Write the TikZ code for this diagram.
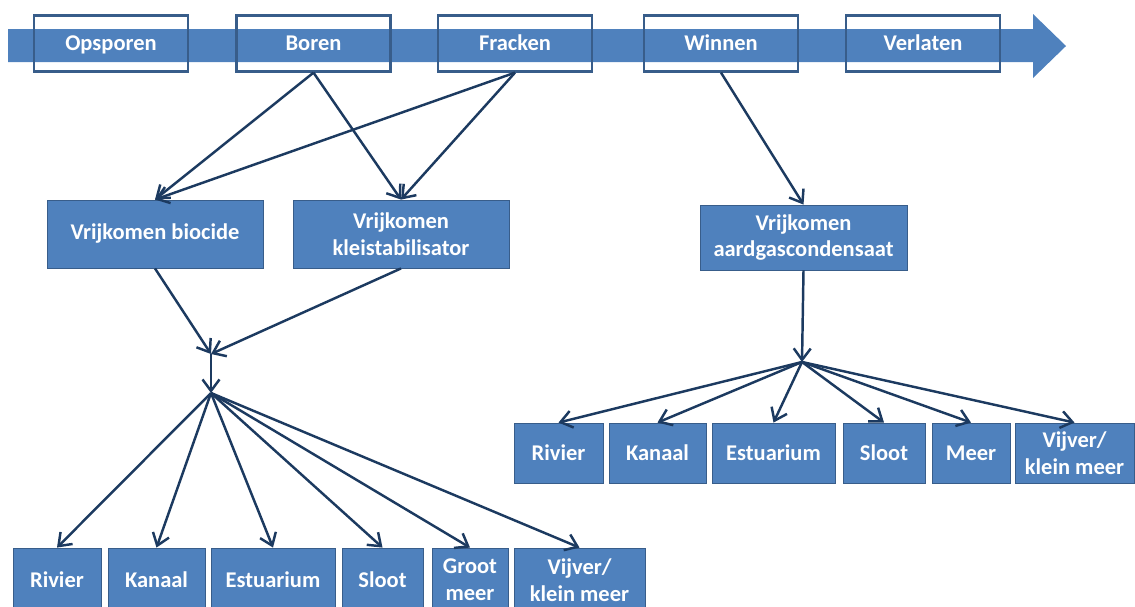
\documentclass[tikz,border=0pt]{standalone}
\usepackage{fontspec}
\setmainfont{Carlito}
\usepackage{tikz}
\usetikzlibrary{arrows.meta}
\definecolor{mblue}{RGB}{79, 129, 189}
\definecolor{medge}{RGB}{56, 93, 138}
\definecolor{mnavy}{RGB}{28, 58, 96}
\tikzset{phase/.style = {draw = medge, line width = 1.3pt, minimum width = 3.08cm, minimum height = 1.12cm, inner sep = 0, text height = 10.5pt, text depth = 2.5pt, text = white, font = \fontsize{12.8}{15.3}\selectfont\bfseries}}
\tikzset{box/.style = {fill = mblue, draw = medge, line width = 0.5pt, inner sep = 0, text = white, align = center, font = \fontsize{12.8}{15.3}\selectfont\bfseries}}
\tikzset{flow/.style = {mnavy, line width = 1.4pt, -{Straight Barb[length = 2.3mm, width = 3.4mm]}}}

\begin{document}
\begin{tikzpicture}[x = 0.02cm, y = -0.02cm]
          \useasboundingbox (0, 0) rectangle (1135, 606);
          \fill [mblue] (8, 29) -- (1033, 29) -- (1033, 14) -- (1066, 46) -- (1033, 78) -- (1033, 62) -- (8, 62) -- cycle;

          \node [phase] (opsporen) at (111, 43.5) {Opsporen};
          \node [phase] (boren) at (313.5, 43.5) {Boren};
          \node [phase] (fracken) at (515, 43.5) {Fracken};
          \node [phase] (winnen) at (721, 43.5) {Winnen};
          \node [phase] (verlaten) at (923, 43.5) {Verlaten};

          \node [box, minimum width = 4.32cm, minimum height = 1.36cm] (biocide) at (155, 234) {Vrijkomen biocide};
          \node [box, minimum width = 4.32cm, minimum height = 1.36cm] (klei) at (401, 234) {Vrijkomen\\kleistabilisator};
          \node [box, minimum width = 4.14cm, minimum height = 1.3cm] (aardgas) at (803.5, 237.5) {Vrijkomen\\aardgascondensaat};

          \coordinate (mergeA) at (211, 354);
          \coordinate (fanA) at (211, 393);
          \coordinate (fanB) at (802, 362);

          \node [box, minimum width = 1.76cm, minimum height = 1.28cm] (rivierL) at (57, 580) {Rivier};
          \node [box, minimum width = 1.94cm, minimum height = 1.28cm] (kanaalL) at (156.5, 580) {Kanaal};
          \node [box, minimum width = 2.48cm, minimum height = 1.28cm] (estuariumL) at (273, 580) {Estuarium};
          \node [box, minimum width = 1.62cm, minimum height = 1.28cm] (slootL) at (382.5, 580) {Sloot};
          \node [box, minimum width = 1.52cm, minimum height = 1.28cm] (grootmeerL) at (470, 580) {Groot\\meer};
          \node [box, minimum width = 2.62cm, minimum height = 1.28cm] (vijverL) at (579.5, 580) {Vijver/\\klein meer};

          \node [box, minimum width = 1.78cm, minimum height = 1.2cm] (rivierR) at (558.5, 453) {Rivier};
          \node [box, minimum width = 1.94cm, minimum height = 1.2cm] (kanaalR) at (657.5, 453) {Kanaal};
          \node [box, minimum width = 2.46cm, minimum height = 1.2cm] (estuariumR) at (773.5, 453) {Estuarium};
          \node [box, minimum width = 1.64cm, minimum height = 1.2cm] (slootR) at (884, 453) {Sloot};
          \node [box, minimum width = 1.56cm, minimum height = 1.2cm] (meerR) at (971, 453) {Meer};
          \node [box, minimum width = 2.38cm, minimum height = 1.2cm] (vijverR) at (1074.5, 453) {Vijver/\\klein meer};

          \draw [flow] (boren.south) -- (biocide.north);
          \draw [flow] (boren.south) -- (klei.north);
          \draw [flow] (fracken.south) -- (biocide.north);
          \draw [flow] (fracken.south) -- (klei.north);
          \draw [flow] (winnen.south) -- (aardgas.north);

          \draw [flow] (biocide.south) -- (mergeA);
          \draw [flow] (klei.south) -- (mergeA);
          \draw [flow] (mergeA) -- (fanA);
          \draw [flow] (aardgas.south) -- (fanB);

          \draw [flow] (fanA) -- (rivierL.north);
          \draw [flow] (fanA) -- (kanaalL.north);
          \draw [flow] (fanA) -- (estuariumL.north);
          \draw [flow] (fanA) -- (slootL.north);
          \draw [flow] (fanA) -- (grootmeerL.north);
          \draw [flow] (fanA) -- (vijverL.north);

          \draw [flow] (fanB) -- (rivierR.north);
          \draw [flow] (fanB) -- (kanaalR.north);
          \draw [flow] (fanB) -- (estuariumR.north);
          \draw [flow] (fanB) -- (slootR.north);
          \draw [flow] (fanB) -- (meerR.north);
          \draw [flow] (fanB) -- (vijverR.north);
        \end{tikzpicture}
\end{document}
